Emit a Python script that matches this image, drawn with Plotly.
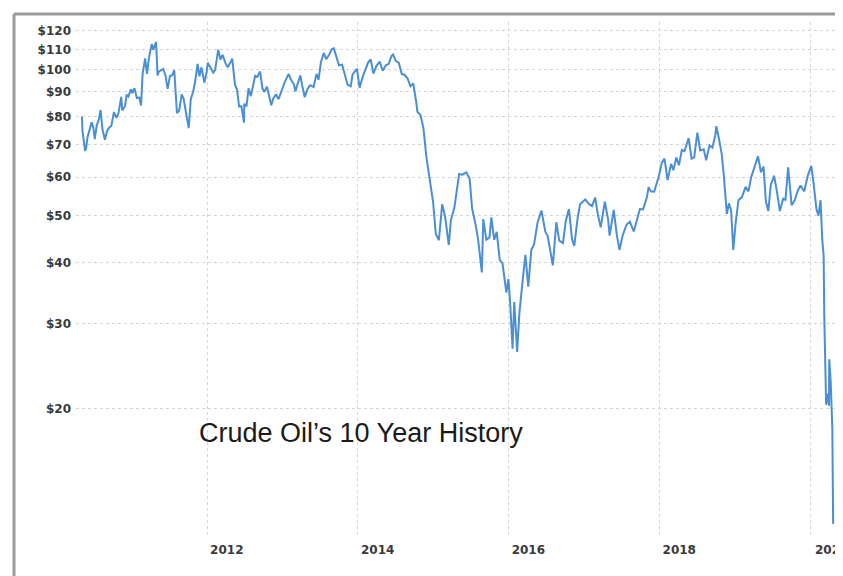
import plotly.graph_objects as go
import math

dates = [
"2010-05-05","2010-05-07","2010-05-20","2010-05-25","2010-06-01","2010-06-10","2010-06-21","2010-06-29",
"2010-07-06","2010-07-15","2010-07-26","2010-08-03","2010-08-12","2010-08-24","2010-09-03","2010-09-15",
"2010-09-24","2010-10-07","2010-10-19","2010-10-29","2010-11-11","2010-11-16","2010-11-30","2010-12-07",
"2010-12-16","2010-12-28","2011-01-04","2011-01-14","2011-01-26","2011-02-07","2011-02-15","2011-02-23",
"2011-03-07","2011-03-16","2011-03-25","2011-04-08","2011-04-15","2011-04-29","2011-05-06","2011-05-12",
"2011-05-24","2011-06-03","2011-06-13","2011-06-24","2011-07-05","2011-07-15","2011-07-26","2011-08-04",
"2011-08-08","2011-08-19","2011-08-31","2011-09-09","2011-09-22","2011-10-04","2011-10-14","2011-10-26",
"2011-11-04","2011-11-16","2011-11-25","2011-12-05","2011-12-19","2011-12-30","2012-01-04","2012-01-17",
"2012-01-31","2012-02-09","2012-02-24","2012-03-06","2012-03-16","2012-03-30","2012-04-10","2012-04-24",
"2012-05-02","2012-05-15","2012-05-25","2012-06-04","2012-06-15","2012-06-28","2012-06-29","2012-07-10",
"2012-07-20","2012-07-31","2012-08-10","2012-08-21","2012-08-31","2012-09-14","2012-09-25","2012-10-05",
"2012-10-17","2012-11-07","2012-11-16","2012-11-30","2012-12-12","2012-12-31","2013-01-10","2013-01-30",
"2013-02-08","2013-02-25","2013-03-04","2013-03-15","2013-03-28","2013-04-05","2013-04-18","2013-05-01",
"2013-05-14","2013-05-31","2013-06-14","2013-06-24","2013-07-05","2013-07-19","2013-07-31","2013-08-15",
"2013-08-28","2013-09-06","2013-09-19","2013-10-01","2013-10-16","2013-10-30","2013-11-12","2013-11-27",
"2013-12-06","2013-12-27","2014-01-09","2014-01-24","2014-02-07","2014-02-19","2014-03-03","2014-03-17",
"2014-03-31","2014-04-16","2014-05-01","2014-05-16","2014-05-30","2014-06-12","2014-06-20","2014-07-03",
"2014-07-18","2014-08-01","2014-08-15","2014-08-29","2014-09-12","2014-09-26","2014-10-10","2014-10-16",
"2014-10-31","2014-11-14","2014-11-28","2014-12-10","2014-12-19","2014-12-31","2015-01-13","2015-01-28",
"2015-02-13","2015-02-27","2015-03-17","2015-03-27","2015-04-13","2015-04-30","2015-05-06","2015-05-21",
"2015-06-10","2015-06-26","2015-07-08","2015-07-24","2015-08-06","2015-08-24","2015-08-31","2015-09-15",
"2015-09-30","2015-10-09","2015-10-23","2015-11-04","2015-11-19","2015-12-02","2015-12-21","2015-12-31",
"2016-01-08","2016-01-20","2016-01-28","2016-02-11","2016-02-22","2016-03-08","2016-03-22","2016-04-05",
"2016-04-20","2016-05-03","2016-05-20","2016-06-08","2016-06-27","2016-07-08","2016-07-20","2016-08-02",
"2016-08-19","2016-09-02","2016-09-20","2016-10-04","2016-10-19","2016-11-03","2016-11-14","2016-11-30",
"2016-12-12","2016-12-30","2017-01-06","2017-01-25","2017-02-08","2017-02-23","2017-03-08","2017-03-22",
"2017-04-11","2017-04-27","2017-05-04","2017-05-24","2017-06-08","2017-06-21","2017-07-06","2017-07-25",
"2017-08-10","2017-08-29","2017-09-13","2017-09-28","2017-10-13","2017-10-31","2017-11-09","2017-11-20",
"2017-12-06","2017-12-29","2018-01-12","2018-01-25","2018-02-09","2018-02-26","2018-03-09","2018-03-23",
"2018-04-05","2018-04-19","2018-05-02","2018-05-22","2018-06-05","2018-06-18","2018-07-03","2018-07-17",
"2018-08-03","2018-08-15","2018-08-31","2018-09-14","2018-09-28","2018-10-03","2018-10-16","2018-10-29",
"2018-11-08","2018-11-23","2018-12-03","2018-12-14","2018-12-24","2019-01-04","2019-01-18","2019-02-04",
"2019-02-22","2019-03-08","2019-03-21","2019-04-05","2019-04-23","2019-05-07","2019-05-20","2019-05-31",
"2019-06-12","2019-06-24","2019-07-10","2019-07-24","2019-08-07","2019-08-23","2019-09-03","2019-09-16",
"2019-10-03","2019-10-18","2019-11-01","2019-11-15","2019-12-03","2019-12-20","2020-01-06","2020-01-17",
"2020-01-31","2020-02-10","2020-02-20","2020-02-28","2020-03-06","2020-03-09","2020-03-18","2020-03-27",
"2020-04-01","2020-04-02","2020-04-09","2020-04-17","2020-04-21"]

prices = [
80.0,75.1,68.0,68.8,72.6,75.3,77.8,75.9,
71.9,76.6,79.0,82.5,75.4,71.6,74.6,76.0,
76.5,81.7,79.5,81.4,87.8,82.3,84.1,88.7,
88.0,91.0,89.4,91.5,87.3,87.5,84.3,98.1,
105.4,97.9,105.4,112.8,109.7,113.9,97.2,98.9,
99.6,100.2,97.3,91.2,96.9,97.2,99.6,86.6,
81.3,82.3,88.8,87.2,80.5,75.7,86.8,90.2,
94.3,102.6,96.8,101.0,93.9,98.8,103.2,100.7,
98.5,99.8,109.8,104.7,107.1,103.0,101.0,103.6,
105.2,93.0,90.9,83.9,84.0,77.7,85.0,83.9,
91.4,88.1,92.9,97.0,96.5,99.0,91.4,89.9,
92.1,84.4,87.0,88.9,86.8,91.8,93.8,97.9,
95.7,93.1,90.1,93.5,97.2,93.0,87.7,91.0,
92.8,92.0,97.9,95.2,103.2,108.1,105.0,107.3,
110.1,110.5,106.4,102.0,102.3,96.8,93.0,92.3,
97.7,100.3,91.7,96.6,99.9,103.3,104.9,98.1,
101.6,103.8,99.4,102.0,102.7,106.5,107.3,104.1,
103.1,97.9,97.4,95.9,92.3,93.5,85.8,81.8,
80.5,75.8,66.2,60.9,57.1,53.3,45.9,44.5,
52.8,49.8,43.5,48.9,51.9,59.6,60.9,60.7,
61.4,59.6,51.7,48.1,44.7,38.2,49.2,44.6,
45.1,49.6,44.6,46.3,40.5,39.9,34.7,37.0,
33.2,26.6,33.2,26.2,31.5,36.5,41.5,35.7,
42.6,43.6,48.4,51.2,46.3,45.4,42.0,39.5,
48.5,44.4,43.9,48.8,51.6,44.7,43.3,49.4,
52.8,53.7,54.0,52.8,52.3,54.5,50.3,47.3,
53.4,49.0,45.5,51.4,45.6,42.5,45.5,47.9,
48.6,46.4,49.3,51.6,51.5,54.4,57.2,56.1,
56.0,60.4,64.3,65.5,59.2,63.9,62.0,65.9,
63.5,68.3,67.9,72.2,65.5,65.9,74.1,68.1,
68.5,65.0,69.8,69.0,73.2,76.4,71.9,67.0,
60.7,50.4,53.0,51.2,42.5,48.0,53.8,54.6,
57.3,56.1,60.0,63.1,66.3,61.4,63.1,53.5,
51.1,57.9,60.4,55.9,51.1,54.2,53.9,62.9,
52.5,53.8,56.2,57.7,56.1,60.4,63.3,58.5,
51.6,50.0,53.8,44.8,41.3,31.1,20.4,21.5,
20.3,25.3,22.8,18.3,11.6]

y_ticks = [20, 30, 40, 50, 60, 70, 80, 90, 100, 110, 120]
y_tick_labels = ["$20", "$30", "$40", "$50", "$60", "$70", "$80", "$90", "$100", "$110", "$120"]
x_ticks = ["2012-01-01", "2014-01-01", "2016-01-01", "2018-01-01", "2020-01-01"]
x_tick_labels = ["2012", "2014", "2016", "2018", "2020"]
title_text = "Crude Oil\u2019s 10 Year History"

fig = go.Figure()
fig.add_trace(go.Scatter(
    x=dates, y=prices, mode="lines",
    line=dict(color="#4a8fd3", width=2),
    hoverinfo="skip", showlegend=False,
))

tick_font = dict(family="DejaVu Sans", size=12, color="#3a3a3a", weight="bold")

PW, PH = 759, 515  # plot area size
fig.update_layout(
    width=827, height=568,
    margin=dict(l=68, r=0, t=14, b=39),
    paper_bgcolor="white", plot_bgcolor="white",
    showlegend=False,
    xaxis=dict(
        type="date",
        range=["2010-04-06", "2020-04-30"],
        tickmode="array", tickvals=x_ticks, ticktext=x_tick_labels,
        ticklabelposition="outside right",
        ticklabelshift=3,
        ticklabelstandoff=4,
        showgrid=True, gridcolor="#d6d6d6", griddash="dot", gridwidth=1,
        showline=False, zeroline=False, ticks="",
        tickfont=tick_font,
    ),
    yaxis=dict(
        type="log",
        range=[math.log10(10.9), math.log10(125.2)],
        tickmode="array", tickvals=y_ticks, ticktext=y_tick_labels,
        ticklabelstandoff=4,
        showgrid=True, gridcolor="#d6d6d6", griddash="dot", gridwidth=1,
        showline=False, zeroline=False, ticks="",
        tickfont=tick_font,
    ),
    annotations=[
        dict(
            text=title_text, xref="paper", yref="paper",
            x=(197 - 76) / PW, y=(537 - 433) / PH,
            xanchor="left", yanchor="middle", showarrow=False,
            font=dict(family="Liberation Sans", size=27, color="#1a1a1a"),
        ),
        # last tick label, partly cut off at the right edge as in the reference
        dict(
            text=x_tick_labels[-1], xref="x", yref="paper",
            x=x_ticks[-1], y=0, yshift=-4, xshift=3,
            xanchor="left", yanchor="top", showarrow=False,
            font=tick_font,
        ),
    ],
    shapes=[
        dict(type="line", xref="paper", yref="paper",
             x0=(14 - 76) / PW, x1=1.2, y0=(537 - 14) / PH, y1=(537 - 14) / PH,
             line=dict(color="#9a9a9a", width=3)),
        dict(type="line", xref="paper", yref="paper",
             x0=(14 - 76) / PW, x1=(14 - 76) / PW, y0=-0.2, y1=(537 - 14) / PH,
             line=dict(color="#9a9a9a", width=3)),
    ],
)

fig.write_html("out.html")
